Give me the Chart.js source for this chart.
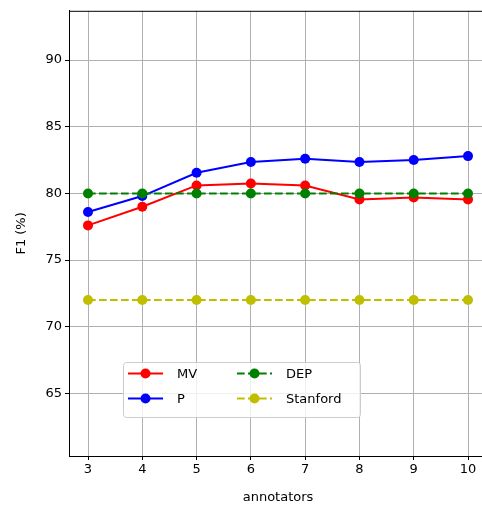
<!DOCTYPE html>
<html>
<head>
<meta charset="utf-8">
<script src="https://cdn.jsdelivr.net/npm/chart.js@4"></script>
<style>
  body { margin: 0; background: #fff; overflow: hidden; }
  #chart { display: block; }
</style>
</head>
<body>
<canvas id="chart" width="492" height="505"></canvas>
<script>
// data
const annotators = [3, 4, 5, 6, 7, 8, 9, 10];
const mvValues = [77.6, 79.0, 80.6, 80.75, 80.6, 79.55, 79.7, 79.55];
const pValues = [78.6, 79.8, 81.55, 82.35, 82.6, 82.35, 82.5, 82.8];
const depValues = [80, 80, 80, 80, 80, 80, 80, 80];
const stanfordValues = [72, 72, 72, 72, 72, 72, 72, 72];
const xTicks = [3, 4, 5, 6, 7, 8, 9, 10];
const yTicks = [65, 70, 75, 80, 85, 90];

const FONT = 'DejaVu Sans';
Chart.defaults.font.family = FONT;
Chart.defaults.font.size = 13;
Chart.defaults.color = '#000';

function points(values) {
  return annotators.map((x, i) => ({ x: x, y: values[i] }));
}

function series(label, values, color, dashed, order) {
  return {
    label: label,
    data: points(values),
    borderColor: color,
    backgroundColor: color,
    pointBackgroundColor: color,
    pointBorderColor: color,
    pointRadius: 5,
    pointBorderWidth: 0,
    borderWidth: 2,
    borderDash: dashed ? [7.7, 3.3] : [],
    tension: 0,
    fill: false,
    order: order
  };
}

const datasets = [
  series('MV', mvValues, '#ff0000', false, 4),
  series('P', pValues, '#0000ff', false, 3),
  series('DEP', depValues, '#008000', true, 2),
  series('Stanford', stanfordValues, '#bfbf00', true, 1)
];

// matplotlib style legend box inside the axes, two columns
const boxLegend = {
  id: 'boxLegend',
  afterDraw(chart) {
    const ctx = chart.ctx;
    const ca = chart.chartArea;
    ctx.save();
    // top spine
    ctx.strokeStyle = '#000';
    ctx.lineWidth = 1;
    ctx.beginPath();
    ctx.moveTo(ca.left, ca.top + 0.5);
    ctx.lineTo(ca.right, ca.top + 0.5);
    ctx.stroke();

    const bx = 123.5, by = 362.5, bw = 237, bh = 55;
    ctx.beginPath();
    ctx.roundRect(bx, by, bw, bh, 3);
    ctx.fillStyle = 'rgba(255,255,255,0.8)';
    ctx.fill();
    ctx.strokeStyle = '#cccccc';
    ctx.stroke();

    const cols = [128, 237];
    const rows = [373.5, 398.5];
    ctx.font = '13px "' + FONT + '"';
    ctx.textBaseline = 'middle';
    datasets.forEach((ds, i) => {
      const cx = cols[Math.floor(i / 2)];
      const cy = rows[i % 2];
      ctx.strokeStyle = ds.borderColor;
      ctx.lineWidth = 2;
      ctx.setLineDash(ds.borderDash);
      ctx.beginPath();
      ctx.moveTo(cx, cy);
      ctx.lineTo(cx + 35, cy);
      ctx.stroke();
      ctx.setLineDash([]);
      ctx.fillStyle = ds.borderColor;
      ctx.beginPath();
      ctx.arc(cx + 17.5, cy, 5, 0, Math.PI * 2);
      ctx.fill();
      ctx.fillStyle = '#000';
      ctx.fillText(ds.label, cx + 49, cy + 1);
    });
    ctx.restore();
  }
};

new Chart(document.getElementById('chart'), {
  type: 'line',
  data: { datasets: datasets },
  options: {
    responsive: false,
    animation: false,
    layout: { padding: { top: 10, right: 0, left: 0, bottom: 0 } },
    plugins: {
      legend: { display: false },
      tooltip: { enabled: false }
    },
    scales: {
      x: {
        type: 'linear',
        min: 2.65,
        max: 10.35,
        afterBuildTicks: s => { s.ticks = xTicks.map(v => ({ value: v })); },
        afterFit: s => { s.height = 49; },
        grid: { color: '#b0b0b0', lineWidth: 1, tickColor: '#000', tickLength: 4 },
        border: { color: '#000', width: 1 },
        ticks: { padding: 2, maxRotation: 0, autoSkip: false },
        title: { display: true, text: 'annotators', padding: { top: 0, bottom: 0 } }
      },
      y: {
        min: 60.3,
        max: 93.7,
        afterBuildTicks: s => { s.ticks = yTicks.map(v => ({ value: v })); },
        afterFit: s => { s.width = 69; },
        grid: { color: '#b0b0b0', lineWidth: 1, tickColor: '#000', tickLength: 4 },
        border: { color: '#000', width: 1 },
        ticks: { padding: 3 },
        title: { display: true, text: 'F1 (%)', padding: { top: 14, bottom: 0 } }
      }
    }
  },
  plugins: [boxLegend]
});
</script>
</body>
</html>
